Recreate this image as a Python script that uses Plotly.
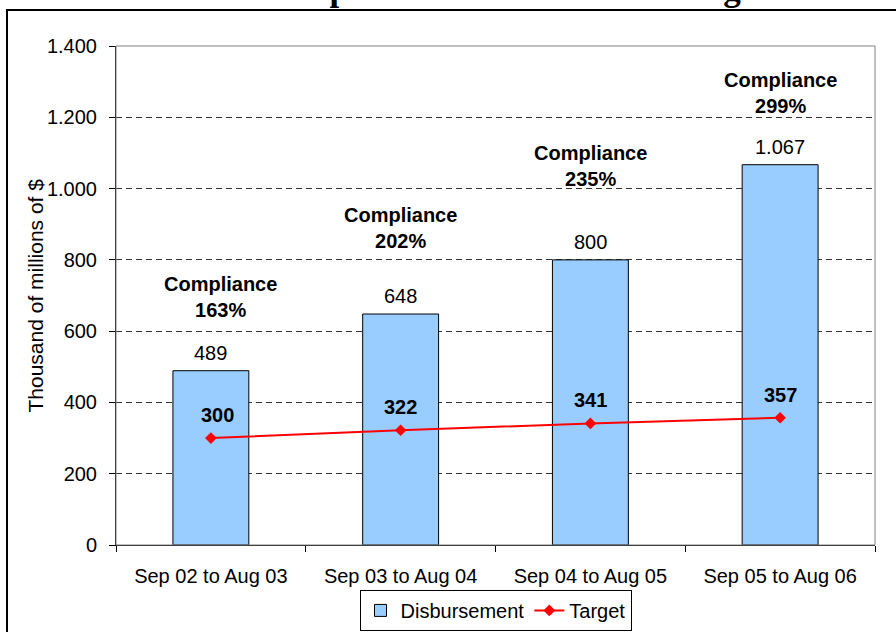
import plotly.graph_objects as go

# ---- data ----
categories = ["Sep 02 to Aug 03", "Sep 03 to Aug 04", "Sep 04 to Aug 05", "Sep 05 to Aug 06"]
disbursement = [489, 648, 800, 1067]
target = [300, 322, 341, 357]
compliance = [163, 202, 235, 299]
y_tick_vals = [0, 200, 400, 600, 800, 1000, 1200, 1400]
y_tick_text = ["0", "200", "400", "600", "800", "1.000", "1.200", "1.400"]
title_text = "Graded Compliance with the Scheduling Goal"
y_title = "Thousand of millions of $"

# ---- label layout (pixel offsets) ----
comp_label_shift = [74, 86, 94, 72]
comp_label_xshift = [10, 0, 0, 0]
target_label_xshift = [7, 0, 0, 0]

FONT = "Liberation Sans, Arial, sans-serif"
FS = 20


def fmt(v):
    return f"{v:,}".replace(",", ".")


fig = go.Figure()
fig.add_trace(go.Bar(
    x=categories, y=disbursement, name="Disbursement",
    marker=dict(color="#99CCFF", line=dict(color="black", width=1)),
))
fig.add_trace(go.Scatter(
    x=categories, y=target, name="Target", mode="lines+markers",
    line=dict(color="#FF0000", width=2),
    marker=dict(symbol="diamond", size=9, color="#FF0000"),
))

ann = []
for i, (c, d, t, p) in enumerate(zip(categories, disbursement, target, compliance)):
    ann.append(dict(x=c, y=d, xref="x", yref="y", text=fmt(d), showarrow=False,
                    yanchor="middle", yshift=18, font=dict(family=FONT, size=FS, color="black")))
    ann.append(dict(x=c, y=t, xref="x", yref="y", text=f"<b>{fmt(t)}</b>", showarrow=False,
                    yanchor="middle", yshift=23, xshift=target_label_xshift[i],
                    font=dict(family=FONT, size=FS, color="black")))
    ann.append(dict(x=c, y=d, xref="x", yref="y", text=f"<b>Compliance<br>{p}%</b>", showarrow=False,
                    yanchor="middle", yshift=comp_label_shift[i], xshift=comp_label_xshift[i],
                    font=dict(family=FONT, size=FS, color="black")))

W, H = 896, 632
L, R, T, B = 116, 21, 46, 87
pw, ph = W - L - R, H - T - B

# clipped title at very top
ann.append(dict(x=(478 - L) / pw, y=1, xref="paper", yref="paper", text=f"<b>{title_text}</b>",
                showarrow=False, xanchor="center", yanchor="bottom", yshift=36,
                font=dict(family="Liberation Serif, Times New Roman, serif", size=35, color="black")))
# y axis title
ann.append(dict(x=(35 - L) / pw, y=0.5, xref="paper", yref="paper", text=y_title,
                showarrow=False, textangle=-90, xanchor="center", yanchor="middle",
                font=dict(family=FONT, size=21, color="black")))

shapes = [
    # plot area border (gray)
    dict(type="rect", xref="paper", yref="paper", x0=0, x1=1, y0=0, y1=1,
         line=dict(color="#808080", width=1), layer="above"),
    # outer chart frame (black), partly beyond the page
    dict(type="rect", xref="paper", yref="paper",
         x0=(7 - L) / pw, x1=(W + 20 - L) / pw,
         y0=-(H + 20 - T - ph) / ph, y1=(H - B - 10) / ph,
         line=dict(color="black", width=2), layer="above"),
]

fig.update_layout(
    width=W, height=H, autosize=False,
    margin=dict(l=L, r=R, t=T, b=B, autoexpand=False),
    paper_bgcolor="white", plot_bgcolor="white",
    font=dict(family=FONT, size=FS, color="black"),
    bargap=0.6,
    showlegend=True,
    legend=dict(orientation="h", x=0.5, xanchor="center", y=-0.09, yanchor="top",
                bordercolor="black", borderwidth=1, font=dict(size=FS),
                traceorder="normal"),
    annotations=ann,
    shapes=shapes,
)
fig.update_xaxes(
    type="category", showline=True, linecolor="black", linewidth=1,
    ticks="outside", tickson="boundaries", ticklen=6, tickcolor="black",
    ticklabelstandoff=13, showgrid=False,
)
fig.update_yaxes(
    range=[0, 1400], tickvals=y_tick_vals, ticktext=y_tick_text,
    showline=True, linecolor="black", linewidth=1,
    ticks="outside", ticklen=6, tickcolor="black", ticklabelstandoff=8,
    showgrid=True, gridcolor="#333333", gridwidth=1, griddash="6px,4px",
    zeroline=False,
)

fig.write_html("out.html", config={"displayModeBar": False},
               post_script="document.body.style.margin='0';")
